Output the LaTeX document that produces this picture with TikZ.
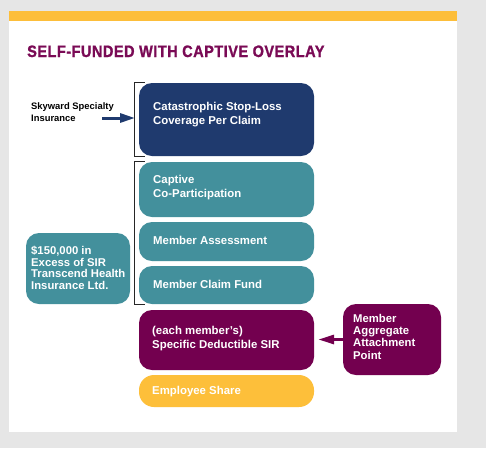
\documentclass[tikz,border=0pt]{standalone}
\usepackage{fontspec}
\setmainfont{Liberation Sans}
\newfontfamily\titlefont[FakeStretch=0.88, LetterSpace=3, FakeBold=1.2]{Liberation Sans Bold}
\usetikzlibrary{arrows.meta}
\definecolor{bggray}{HTML}{E6E6E6}
\definecolor{topyellow}{HTML}{FDBE3A}
\definecolor{navyc}{HTML}{1F3A6E}
\definecolor{tealc}{HTML}{43909C}
\definecolor{plumc}{HTML}{73004F}
\definecolor{titlec}{HTML}{7A0A55}
\definecolor{amberc}{HTML}{FDBF3A}
\begin{document}
\begin{tikzpicture}[x=1pt,y=-1pt,
  box/.style={rounded corners=13pt, inner sep=0pt, minimum width=175pt},
  boxtext/.style={anchor=north west, inner sep=0pt, text=white, align=left,
    font=\fontsize{11.4}{14}\selectfont\bfseries},
  sidetext/.style={anchor=north west, inner sep=0pt, text=white, align=left,
    font=\fontsize{11.3}{11.5}\selectfont\bfseries},
  bracketline/.style={draw=black!85, line width=0.8pt},
  fatarrow/.style={line width=3pt, -{Triangle[length=15pt,width=9pt]}}
]
\useasboundingbox (0,0) rectangle (486,448);
\fill[bggray] (0,0) rectangle (486,448);
\fill[white] (9,11) rectangle (457,432);
\fill[topyellow] (9,11) rectangle (457,21);

\node[anchor=base west, inner sep=0pt, text=titlec,
  font=\titlefont\fontsize{16.5}{18}\selectfont] (title) at (27,57)
  {SELF-FUNDED WITH CAPTIVE OVERLAY};

% main column
\node[box, fill=navyc, minimum height=73pt] (cat) at (226.5,119.5) {};
\node[box, fill=tealc, minimum height=55pt] (cap) at (226.5,189.5) {};
\node[box, fill=tealc, minimum height=39pt] (assess) at (226.5,241.5) {};
\node[box, fill=tealc, minimum height=38pt] (fund) at (226.5,285) {};
\node[box, fill=plumc, minimum height=60pt] (ded) at (226.5,340) {};
\node[box, fill=amberc, minimum height=32pt, rounded corners=15pt] (emp) at (226.5,391) {};

\node[boxtext] (cattext) at (153,102) {Catastrophic Stop-Loss\\Coverage Per Claim};
\node[boxtext] (captext) at (153,175) {Captive\\Co-Participation};
\node[boxtext] (assesstext) at (153,236) {Member Assessment};
\node[boxtext] (fundtext) at (153,280) {Member Claim Fund};
\node[boxtext] (dedtext) at (152,326) {(each member's)\\Specific Deductible SIR};
\node[boxtext] (emptext) at (152,386) {Employee Share};

% side boxes
\node[box, fill=tealc, minimum width=104pt, minimum height=71pt] (excess) at (78,268.5) {};
\node[sidetext] (excesstext) at (31,246) {\$150,000 in\\Excess of SIR\\Transcend Health\\Insurance Ltd.};
\node[box, fill=plumc, minimum width=98pt, minimum height=71pt] (agg) at (392,339.5) {};
\node[sidetext, font=\fontsize{11.3}{12.3}\selectfont\bfseries] (aggtext) at (353,314)
  {Member\\Aggregate\\Attachment\\Point};

\node[anchor=north west, inner sep=0pt, align=left, text=black,
  font=\fontsize{9.4}{12}\selectfont\bfseries] (sky) at (31,102) {Skyward Specialty\\Insurance};

% brackets
\draw[bracketline] ([xshift=6pt]cat.north west) -- ([xshift=-4pt]cat.north west)
  -- ([xshift=-4pt]cat.south west) -- ([xshift=6pt]cat.south west);
\draw[bracketline] ([xshift=6pt]cap.north west) -- ([xshift=-4pt]cap.north west)
  -- ([xshift=-4pt]fund.south west) -- ([xshift=6pt]fund.south west);

% arrows
\coordinate (skytail) at (102,118);
\coordinate (skyhead) at (135,118);
\draw[fatarrow, navyc] (skytail) -- (skyhead);
\draw[fatarrow, plumc, -{Triangle[length=16pt,width=9pt]}, shorten >=4pt] (agg.west) -- (ded.east |- agg.west);
\end{tikzpicture}
\end{document}
